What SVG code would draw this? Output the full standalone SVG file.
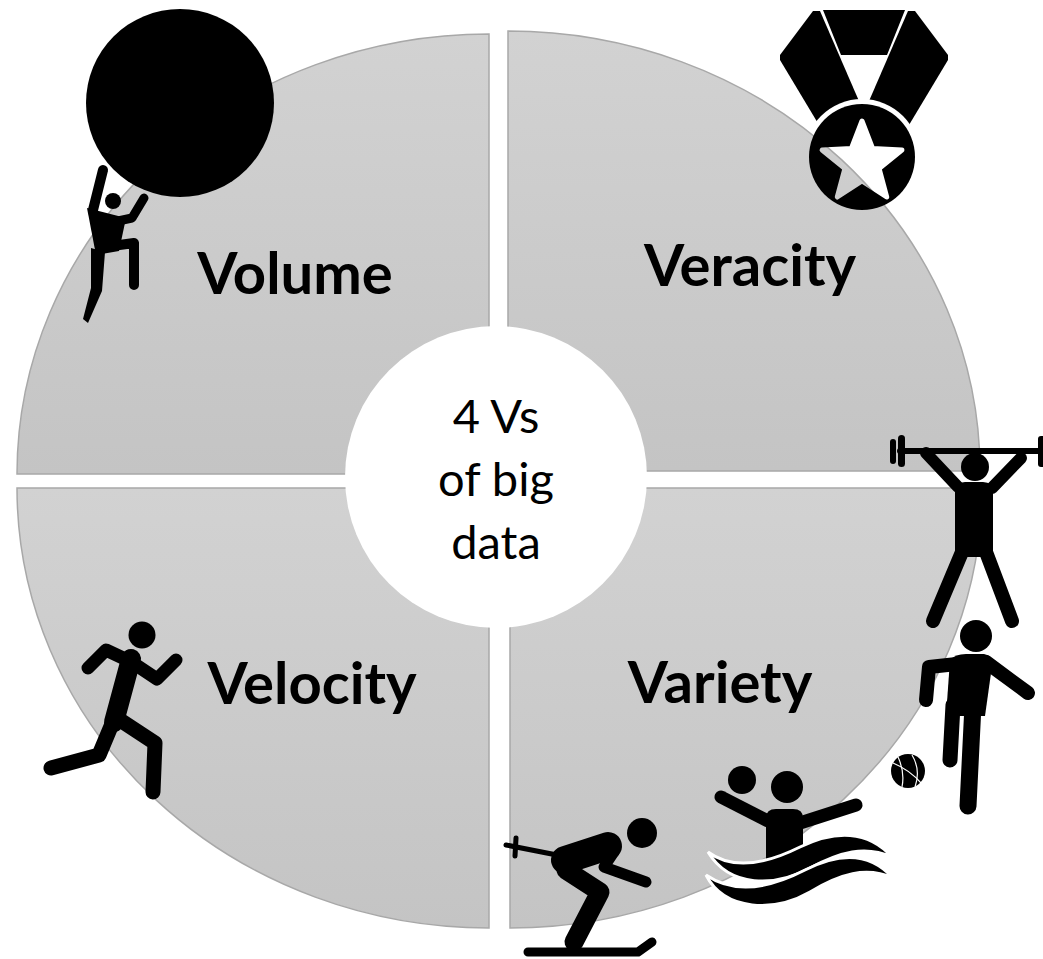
<svg xmlns="http://www.w3.org/2000/svg" width="1043" height="959" viewBox="0 0 1043 959">
  <defs>
    <linearGradient id="quadFill" x1="0" y1="0" x2="0" y2="1">
      <stop offset="0" stop-color="#d2d2d2"/>
      <stop offset="1" stop-color="#c4c4c4"/>
    </linearGradient>
    <!-- star cut out of the medal disc -->
    <mask id="starHole" maskUnits="userSpaceOnUse" x="0" y="0" width="1043" height="959">
      <rect x="0" y="0" width="1043" height="959" fill="#fff"/>
      <polygon points="862,121 872.6,148.4 901.9,150 879.1,168.6 886.7,197 862,181 837.3,197 844.9,168.6 822.1,150 851.4,148.4" fill="#000" stroke="#000" stroke-width="5" stroke-linejoin="round"/>
    </mask>
    <!-- gap between the ribbon and the medal disc -->
    <mask id="ribbonGap" maskUnits="userSpaceOnUse" x="0" y="0" width="1043" height="959">
      <rect x="0" y="0" width="1043" height="959" fill="#fff"/>
      <circle cx="862" cy="157" r="58" fill="#000"/>
    </mask>
    <style>
      .quad { fill: url(#quadFill); stroke: #a8a8a8; stroke-width: 1.5; }
      .label { font-family: "Lato", "Liberation Sans", sans-serif; font-weight: 700; font-size: 58px; fill: #000; text-anchor: middle; }
      .core { font-family: "Lato", "Liberation Sans", sans-serif; font-weight: 400; font-size: 47px; fill: #000; text-anchor: middle; }
      .ink { fill: #000; }
      .limb { fill: none; stroke: #000; stroke-linecap: round; stroke-linejoin: round; }
      .seam { fill: none; stroke: #fff; stroke-width: 1.2; }
    </style>
  </defs>

  <rect x="0" y="0" width="1043" height="959" fill="#fff"/>

  <!-- four exploded quadrants of the ring -->
  <g id="volume">
    <path class="quad" d="M489,474 L17,474 A472,440 0 0 1 489,34 Z"/>
    <text class="label" x="295" y="294">Volume</text>
  </g>
  <g id="veracity">
    <path class="quad" d="M508,471 L508,31 A472,440 0 0 1 980,471 Z"/>
    <text class="label" x="750" y="286">Veracity</text>
  </g>
  <g id="velocity">
    <path class="quad" d="M489,488 L489,928 A472,440 0 0 1 17,488 Z"/>
    <text class="label" x="312" y="704">Velocity</text>
  </g>
  <g id="variety">
    <path class="quad" d="M510,488 L982,488 A472,440 0 0 1 510,928 Z"/>
    <text class="label" x="720" y="703">Variety</text>
  </g>

  <!-- hub -->
  <g id="center">
    <circle cx="496" cy="477" r="151" fill="#fff"/>
    <text class="core" x="496" y="433">4 Vs</text>
    <text class="core" x="496" y="496">of big</text>
    <text class="core" x="496" y="559">data</text>
  </g>

  <!-- boulder pusher -->
  <g id="icon-boulder">
    <circle class="ink" cx="180" cy="103" r="94"/>
    <circle class="ink" cx="113" cy="201" r="8"/>
    <path class="limb" stroke-width="10" d="M103,170 L93,210"/>
    <path class="limb" stroke-width="9" d="M144,198 L132,218 L118,221"/>
    <path class="ink" d="M87,208 L126,218 L119,251 L96,255 Z"/>
    <path class="limb" stroke-width="10" stroke-linejoin="miter" stroke-linecap="butt" d="M112,246 L134,243 L134,285"/>
    <path class="ink" d="M91,248 L105,252 L102,291 L88,323 L83,319 L91,288 Z"/>
  </g>

  <!-- medal -->
  <g id="icon-medal">
    <g mask="url(#ribbonGap)">
      <path class="ink" d="M780,55 L813,11 L820,11 L862,108 L822,130 L780,60 Z"/>
      <path class="ink" d="M948,55 L915,11 L908,11 L866,108 L906,130 L948,60 Z"/>
    </g>
    <path class="ink" d="M823,10 L905,10 L887,55 L841,55 Z"/>
    <circle class="ink" cx="862" cy="157" r="53" mask="url(#starHole)"/>
  </g>

  <!-- weightlifter -->
  <g id="icon-lifter">
    <path class="limb" stroke-width="6" stroke-linecap="butt" d="M900,451 L1043,451"/>
    <rect class="ink" x="890" y="439" width="6" height="25" rx="3"/>
    <rect class="ink" x="898" y="435" width="7" height="32" rx="3.5"/>
    <rect class="ink" x="1038" y="436" width="8" height="31" rx="3"/>
    <circle class="ink" cx="975" cy="467" r="14"/>
    <path class="limb" stroke-width="12" d="M926,453 L958,487"/>
    <path class="limb" stroke-width="12" d="M1021,458 L992,488"/>
    <path class="ink" d="M955,492 Q955,482 965,482 L983,482 Q993,482 993,492 L993,557 L955,557 Z"/>
    <path class="limb" stroke-width="14" d="M962,552 L933,621"/>
    <path class="limb" stroke-width="14" d="M986,552 L1012,621"/>
  </g>

  <!-- footballer -->
  <g id="icon-footballer">
    <circle class="ink" cx="976" cy="636" r="16"/>
    <path class="ink" d="M950,660 Q955,654 966,654 L984,654 Q993,655 992,666 L985,716 L946,716 Z"/>
    <path class="limb" stroke-width="14" d="M966,663 L929,667 L926,700"/>
    <path class="limb" stroke-width="14" d="M986,662 L1028,693"/>
    <path class="limb" stroke-width="15" d="M953,705 L950,760"/>
    <path class="limb" stroke-width="17" d="M973,705 L968,806"/>
    <circle class="ink" cx="908" cy="771" r="17"/>
    <path class="seam" d="M893,763 Q910,770 922,784"/>
    <path class="seam" d="M898,757 Q905,772 902,787"/>
    <path class="seam" d="M912,755 Q921,770 915,787"/>
  </g>

  <!-- water polo -->
  <g id="icon-waterpolo">
    <circle class="ink" cx="742" cy="780" r="14"/>
    <circle class="ink" cx="787" cy="787" r="16"/>
    <path class="limb" stroke-width="13" d="M721,797 L768,821"/>
    <path class="limb" stroke-width="13" d="M800,823 L856,805"/>
    <path class="ink" d="M766,818 Q766,809 776,809 L793,809 Q803,809 803,818 L803,866 L766,866 Z"/>
    <path class="ink" stroke="#fff" stroke-width="3" d="M708,852 C735,872 770,862 800,847 C835,830 868,830 892,857 C865,845 840,852 810,868 C775,887 730,888 708,852 Z"/>
    <path class="ink" stroke="#fff" stroke-width="3" d="M706,875 C735,895 770,888 805,870 C840,852 870,852 893,878 C866,866 840,874 810,892 C775,912 725,912 706,875 Z"/>
  </g>

  <!-- skier -->
  <g id="icon-skier">
    <circle class="ink" cx="642" cy="833" r="15"/>
    <path class="limb" stroke-width="5" d="M506,845 L562,856"/>
    <path class="limb" stroke-width="5" d="M516,838 L515,856"/>
    <path class="limb" stroke-width="28" d="M565,860 L608,846"/>
    <path class="limb" stroke-width="11" d="M614,852 L604,867 L646,882"/>
    <path class="limb" stroke-width="19" d="M566,870 L600,892 L574,942"/>
    <path class="limb" stroke-width="9" d="M528,952 L638,952 L652,942"/>
  </g>

  <!-- runner -->
  <g id="icon-runner">
    <circle class="ink" cx="142" cy="635" r="13.5"/>
    <path class="limb" stroke-width="20" d="M131,659 L114,722"/>
    <path class="limb" stroke-width="13" d="M123,658 L106,650 L88,668"/>
    <path class="limb" stroke-width="13" d="M136,665 L157,679 L176,660"/>
    <path class="limb" stroke-width="15" d="M112,724 L99,755 L51,768"/>
    <path class="limb" stroke-width="15" d="M120,720 L155,743 L153,792"/>
  </g>
</svg>
